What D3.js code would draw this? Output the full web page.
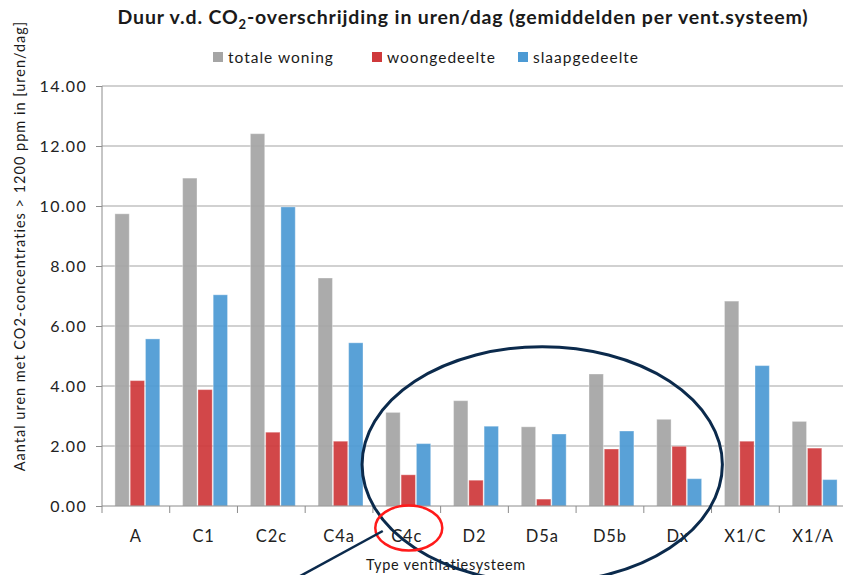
<!DOCTYPE html>
<html>
<head>
<meta charset="utf-8">
<script src="https://cdn.jsdelivr.net/npm/d3@7"></script>
<style>
  body { margin: 0; background: #fff; }
  text { font-family: Lato, "Open Sans", sans-serif; fill: #1a1a1a; }
</style>
</head>
<body>
<svg id="chart" width="843" height="575"></svg>
<script>
// data
let systems = ["A", "C1", "C2c", "C4a", "C4c", "D2", "D5a", "D5b", "Dx", "X1/C", "X1/A"];
let series_names = ["totale woning", "woongedeelte", "slaapgedeelte"];
let series_colors = ["#a5a5a5", "#cf393b", "#4c9ad4"];
let totale_woning = [9.74, 10.93, 12.41, 7.60, 3.12, 3.51, 2.64, 4.40, 2.89, 6.83, 2.82];
let woongedeelte  = [4.18, 3.88, 2.46, 2.16, 1.04, 0.86, 0.23, 1.90, 1.99, 2.16, 1.93];
let slaapgedeelte = [5.57, 7.04, 9.97, 5.44, 2.08, 2.66, 2.40, 2.50, 0.91, 4.68, 0.88];
let y_ticks = [0, 2, 4, 6, 8, 10, 12, 14];

let data = [totale_woning, woongedeelte, slaapgedeelte];

let svg = d3.select("#chart"),
    margin = {top: 86, right: -4, bottom: 69, left: 102},
    width = svg.attr("width") - margin.left - margin.right,
    height = svg.attr("height") - margin.top - margin.bottom;

let x = d3.scaleBand().domain(systems).range([0, width]).paddingInner(0).paddingOuter(0);
let xs = d3.scaleBand().domain(d3.range(3)).range([12, x.bandwidth() - 9]).padding(0.06);
let y = d3.scaleLinear().domain([0, 14]).range([height, 0]);

let g = svg.append("g").attr("transform", "translate(" + margin.left + "," + margin.top + ")");

// gridlines
g.selectAll(".grid").data(y_ticks.slice(1)).enter().append("line")
    .attr("x1", 0).attr("x2", width)
    .attr("y1", d => y(d)).attr("y2", d => y(d))
    .style("stroke", "#a3a3a3").style("stroke-width", 1.2);

// bars
for (let s = 0; s < data.length; s++) {
    g.append("g").selectAll("rect")
        .data(data[s])
        .enter().append("rect")
        .attr("x", (d, i) => x(systems[i]) + xs(s))
        .attr("width", xs.bandwidth())
        .attr("y", d => y(d))
        .attr("height", d => y(0) - y(d))
        .style("fill", series_colors[s])
        .style("fill-opacity", 0.93)
        .style("stroke", "#ffffff")
        .style("stroke-opacity", 0.35)
        .style("stroke-width", 1);
}

// y axis
let yAxis = d3.axisLeft(y).tickValues(y_ticks).tickFormat(d3.format(".2f")).tickSize(6).tickPadding(9);
let ya = g.append("g").call(yAxis);
ya.select(".domain").attr("d", "M0," + y(0) + "V" + y(14)).style("stroke", "#8c8c8c");
ya.selectAll(".tick line").style("stroke", "#8c8c8c");
ya.selectAll(".tick text").style("font-size", "16px").style("letter-spacing", "1.3px").style("fill", "#222");

// x axis
let xAxis = d3.axisBottom(x).tickSize(0).tickPadding(24);
let xa = g.append("g").attr("transform", "translate(0," + height + ")").call(xAxis);
xa.select(".domain").attr("d", "M0,0H" + width).style("stroke", "#8c8c8c");
xa.selectAll(".tick text").style("font-size", "16.5px").style("letter-spacing", "0.9px").style("fill", "#222");
// category separators
g.append("g").selectAll("line").data(systems).enter().append("line")
    .attr("x1", d => x(d)).attr("x2", d => x(d))
    .attr("y1", height).attr("y2", height + 7)
    .style("stroke", "#8c8c8c");

// title
let title = svg.append("text")
    .attr("x", 463).attr("y", 24)
    .attr("text-anchor", "middle")
    .style("font-size", "19.5px").style("font-weight", "bold").style("letter-spacing", "0.85px");
title.append("tspan").text("Duur v.d. CO");
title.append("tspan").text("2").attr("dy", 5).style("font-size", "13px");
title.append("tspan").text("-overschrijding in uren/dag (gemiddelden per vent.systeem)").attr("dy", -5);

// legend
let legend_x = [213, 372, 518];
let lg = svg.append("g").selectAll("g").data(series_names).enter().append("g")
    .attr("transform", (d, i) => "translate(" + legend_x[i] + ",52)");
lg.append("rect").attr("width", 10).attr("height", 10).style("fill", (d, i) => series_colors[i]);
lg.append("text").attr("x", 15).attr("y", 10.5).style("font-size", "15.5px").style("letter-spacing", "1px").text(d => d);

// axis titles
svg.append("text")
    .attr("transform", "translate(25," + 246 + ") rotate(-90)")
    .attr("text-anchor", "middle")
    .style("font-size", "14.5px")
    .style("letter-spacing", "1px")
    .text("Aantal uren met CO2-concentraties > 1200 ppm in [uren/dag]");

svg.append("text")
    .attr("x", 446).attr("y", 570)
    .attr("text-anchor", "middle")
    .style("font-size", "14.5px")
    .style("letter-spacing", "0.7px")
    .text("Type ventilatiesysteem");

// annotations: ellipse around C4c..Dx and red circle on C4c
let ann = svg.append("g").attr("transform", "translate(" + margin.left + "," + margin.top + ")");
ann.append("ellipse")
    .attr("cx", x("D5a") + x.bandwidth() / 2)
    .attr("cy", y(1.38))
    .attr("rx", x.bandwidth() * 2.66)
    .attr("ry", y(0) - y(3.93))
    .style("fill", "none").style("stroke", "#0b2a4c").style("stroke-width", 3);
ann.append("ellipse")
    .attr("cx", x("C4c") + x.bandwidth() / 2 + 2)
    .attr("cy", height + 22)
    .attr("rx", 33.5).attr("ry", 22.5)
    .style("fill", "none").style("stroke", "#ff1a1a").style("stroke-width", 2.5);
ann.append("line")
    .attr("x1", x("C4c") + x.bandwidth() / 2 - 24).attr("y1", height + 25)
    .attr("x2", x("C4c") - 80).attr("y2", height + 74)
    .style("stroke", "#0b2a4c").style("stroke-width", 2.5);
</script>
</body>
</html>
